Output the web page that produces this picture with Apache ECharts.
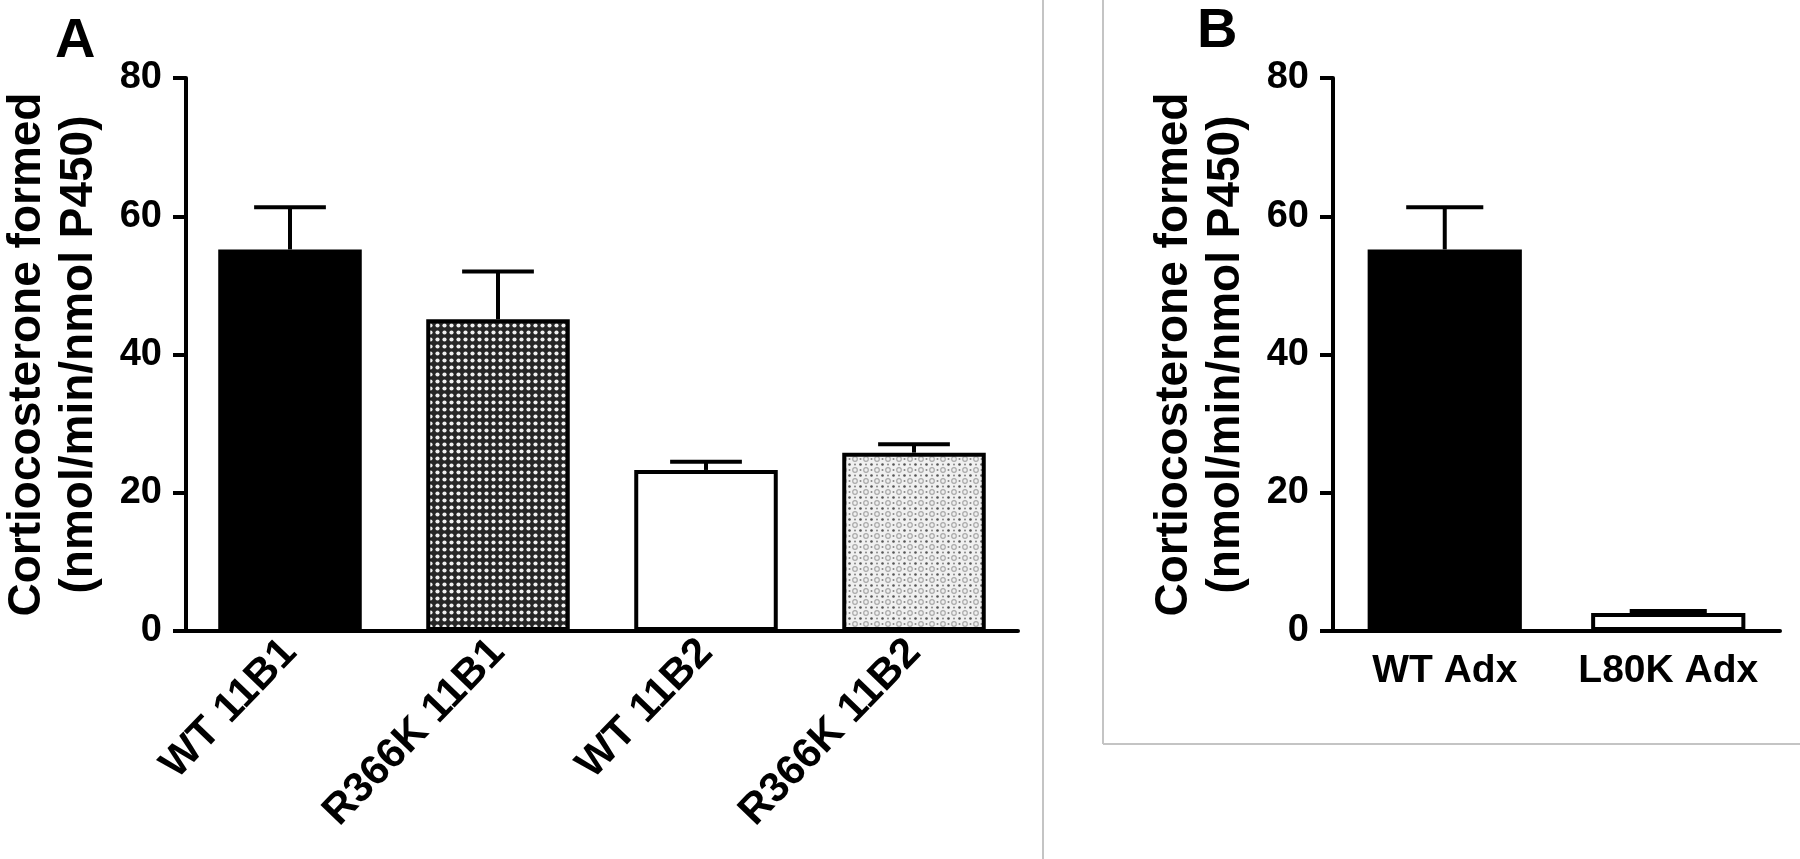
<!DOCTYPE html>
<html>
<head>
<meta charset="utf-8">
<script src="https://cdn.jsdelivr.net/npm/echarts@6/dist/echarts.min.js"></script>
<style>
  html, body { margin: 0; padding: 0; background: #fff; }
  #chart { width: 1800px; height: 859px; }
</style>
</head>
<body>
<div id="chart"></div>
<script>
// ---- data ----
var categoriesA = ['WT 11B1', 'R366K 11B1', 'WT 11B2', 'R366K 11B2'];
var meansA = [55.2, 45.1, 23.3, 25.8];
var errorsA = [6.1, 6.9, 1.2, 1.2];

var categoriesB = ['WT Adx', 'L80K Adx'];
var meansB = [55.2, 2.6];
var errorsB = [6.1, 0.3];

var yTicks = { min: 0, max: 80, interval: 20 };
var yTitle = 'Cortiocosterone formed\n(nmol/min/nmol P450)';

// ---- patterns ----
function darkPattern() {
  var c = document.createElement('canvas');
  c.width = 7; c.height = 7;
  var g = c.getContext('2d');
  g.fillStyle = '#262626';
  g.fillRect(0, 0, 7, 7);
  g.fillStyle = '#f0f0f0';
  g.beginPath(); g.arc(3.5, 3.5, 2.1, 0, Math.PI * 2); g.fill();
  return { image: c, repeat: 'repeat' };
}
function lightPattern() {
  var c = document.createElement('canvas');
  c.width = 11; c.height = 11;
  var g = c.getContext('2d');
  g.fillStyle = '#f0f0f0';
  g.fillRect(0, 0, 11, 11);
  g.fillStyle = '#555';
  g.beginPath(); g.arc(2.5, 2.5, 1.3, 0, Math.PI * 2); g.fill();
  g.strokeStyle = '#aaa'; g.lineWidth = 1.2;
  g.beginPath(); g.arc(8, 8, 2.3, 0, Math.PI * 2); g.stroke();
  g.fillStyle = '#888';
  g.beginPath(); g.arc(8, 2.5, 1.0, 0, Math.PI * 2); g.fill();
  g.beginPath(); g.arc(2.5, 8, 1.0, 0, Math.PI * 2); g.fill();
  return { image: c, repeat: 'repeat' };
}

var fillsA = ['#000', darkPattern(), '#fff', lightPattern()];
var fillsB = ['#000', '#fff'];

var FONT = 'Liberation Sans, Arial, Helvetica, sans-serif';

function errorSeries(axisIdx, means, errs) {
  return {
    type: 'custom',
    xAxisIndex: axisIdx, yAxisIndex: axisIdx,
    z: 5,
    silent: true,
    data: means.map(function (m, i) { return [i, m, m + errs[i]]; }),
    renderItem: function (params, api) {
      var i = api.value(0);
      var base = api.coord([i, api.value(1)]);
      var top = api.coord([i, api.value(2)]);
      var band = api.size([1, 0])[0];
      var half = band * 0.69 * 0.25;
      var style = { stroke: '#000', lineWidth: 4 };
      return {
        type: 'group',
        children: [
          { type: 'line', shape: { x1: base[0], y1: base[1], x2: top[0], y2: top[1] }, style: style },
          { type: 'line', shape: { x1: top[0] - half, y1: top[1], x2: top[0] + half, y2: top[1] }, style: style }
        ]
      };
    }
  };
}

function yAxisDef(gridIdx) {
  return {
    type: 'value', gridIndex: gridIdx,
    min: yTicks.min, max: yTicks.max, interval: yTicks.interval,
    name: yTitle, nameLocation: 'middle', nameRotate: 90, nameGap: 81,
    nameTextStyle: { fontFamily: FONT, fontWeight: 'bold', fontSize: 46, lineHeight: 52, color: '#000', align: 'center' },
    axisLine: { show: true, lineStyle: { color: '#000', width: 4 } },
    axisTick: { show: true, length: 13, lineStyle: { color: '#000', width: 4 } },
    axisLabel: { fontFamily: FONT, fontWeight: 'bold', fontSize: 38, color: '#000', margin: 24 },
    splitLine: { show: false }
  };
}

var chart = echarts.init(document.getElementById('chart'), null, { renderer: 'canvas' });
chart.setOption({
  backgroundColor: '#fff',
  animation: false,
  grid: [
    { left: 185, right: 782, top: 78, bottom: 228 },
    { left: 1333, right: 20, top: 78, bottom: 228 }
  ],
  xAxis: [
    {
      type: 'category', gridIndex: 0, data: categoriesA,
      axisLine: { lineStyle: { color: '#000', width: 4 } },
      axisTick: { alignWithLabel: true, length: 13, lineStyle: { color: '#000', width: 4 } },
      axisLabel: { rotate: 46, interval: 0, fontFamily: FONT, fontWeight: 'bold', fontSize: 42, color: '#000', margin: 15 }
    },
    {
      type: 'category', gridIndex: 1, data: categoriesB,
      axisLine: { lineStyle: { color: '#000', width: 4 } },
      axisTick: { alignWithLabel: true, length: 13, lineStyle: { color: '#000', width: 4 } },
      axisLabel: { interval: 0, fontFamily: FONT, fontWeight: 'bold', fontSize: 39, color: '#000', margin: 21 }
    }
  ],
  yAxis: [yAxisDef(0), yAxisDef(1)],
  series: [
    {
      type: 'bar', xAxisIndex: 0, yAxisIndex: 0, barCategoryGap: '31%',
      data: meansA.map(function (v, i) {
        return { value: v, itemStyle: { color: fillsA[i], borderColor: '#000', borderWidth: 4 } };
      })
    },
    errorSeries(0, meansA, errorsA),
    {
      type: 'bar', xAxisIndex: 1, yAxisIndex: 1, barCategoryGap: '31%',
      data: meansB.map(function (v, i) {
        return { value: v, itemStyle: { color: fillsB[i], borderColor: '#000', borderWidth: 4 } };
      })
    },
    errorSeries(1, meansB, errorsB)
  ],
  graphic: [
    { type: 'text', left: 55, top: 14, style: { text: 'A', font: 'bold 56px ' + FONT, fill: '#000' } },
    { type: 'text', left: 1197, top: 4, style: { text: 'B', font: 'bold 56px ' + FONT, fill: '#000' } },
    { type: 'line', shape: { x1: 1043, y1: 0, x2: 1043, y2: 859 }, style: { stroke: '#c4c4c4', lineWidth: 2 } },
    { type: 'line', shape: { x1: 1103, y1: 0, x2: 1103, y2: 744 }, style: { stroke: '#c4c4c4', lineWidth: 2 } },
    { type: 'line', shape: { x1: 1103, y1: 744, x2: 1800, y2: 744 }, style: { stroke: '#c4c4c4', lineWidth: 2 } }
  ]
});
</script>
</body>
</html>
